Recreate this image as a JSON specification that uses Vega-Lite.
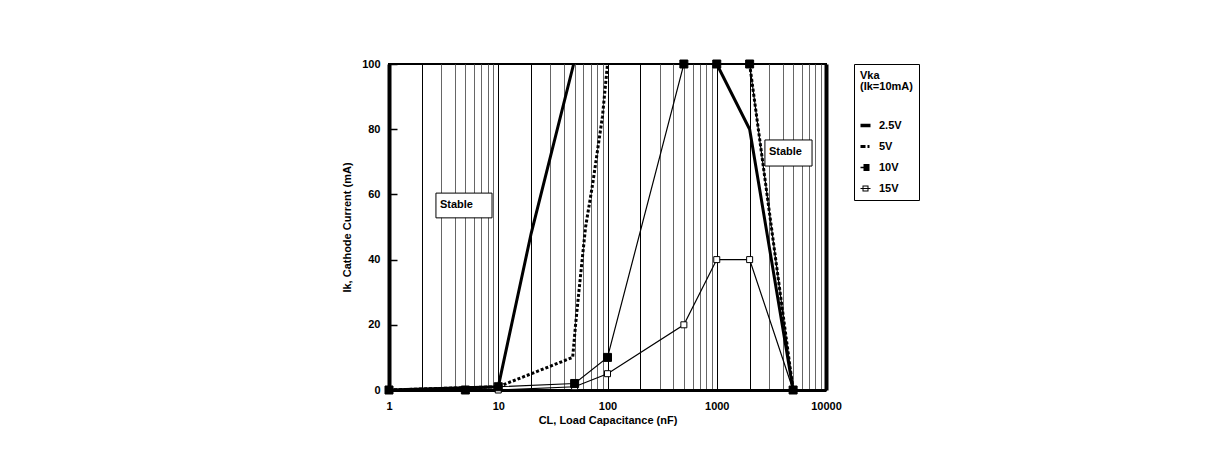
{
  "$schema": "https://vega.github.io/schema/vega-lite/v6.json",
  "width": 437,
  "height": 326,
  "autosize": {"type": "none"},
  "padding": {"left": 389, "top": 64, "right": 397, "bottom": 83},
  "background": "white",
  "config": {
    "view": {"stroke": "black", "strokeWidth": 2},
    "font": "Liberation Sans"
  },
  "datasets": {
    "curves": [
      {"s": "2.5V", "p": "2.5a", "x": 1, "y": 0},
      {"s": "2.5V", "p": "2.5a", "x": 10, "y": 1},
      {"s": "2.5V", "p": "2.5a", "x": 20, "y": 48},
      {"s": "2.5V", "p": "2.5a", "x": 49, "y": 100},
      {"s": "2.5V", "p": "2.5b", "x": 1000, "y": 100},
      {"s": "2.5V", "p": "2.5b", "x": 2000, "y": 80},
      {"s": "2.5V", "p": "2.5b", "x": 5000, "y": 0},
      {"s": "5V", "p": "5a", "x": 1, "y": 0},
      {"s": "5V", "p": "5a", "x": 10, "y": 1},
      {"s": "5V", "p": "5a", "x": 48, "y": 10},
      {"s": "5V", "p": "5a", "x": 51, "y": 20},
      {"s": "5V", "p": "5a", "x": 57, "y": 36},
      {"s": "5V", "p": "5a", "x": 63, "y": 50},
      {"s": "5V", "p": "5a", "x": 73, "y": 63},
      {"s": "5V", "p": "5a", "x": 90, "y": 84},
      {"s": "5V", "p": "5a", "x": 100, "y": 100},
      {"s": "5V", "p": "5b", "x": 2000, "y": 100},
      {"s": "5V", "p": "5b", "x": 5000, "y": 0},
      {"s": "10V", "p": "10", "x": 1, "y": 0},
      {"s": "10V", "p": "10", "x": 5, "y": 0},
      {"s": "10V", "p": "10", "x": 10, "y": 1},
      {"s": "10V", "p": "10", "x": 50, "y": 2},
      {"s": "10V", "p": "10", "x": 100, "y": 10},
      {"s": "10V", "p": "10", "x": 500, "y": 100},
      {"s": "10V", "p": "10", "x": 1000, "y": 100},
      {"s": "10V", "p": "10", "x": 2000, "y": 100},
      {"s": "10V", "p": "10", "x": 5000, "y": 0},
      {"s": "15V", "p": "15", "x": 1, "y": 0},
      {"s": "15V", "p": "15", "x": 10, "y": 0},
      {"s": "15V", "p": "15", "x": 50, "y": 1},
      {"s": "15V", "p": "15", "x": 100, "y": 5},
      {"s": "15V", "p": "15", "x": 500, "y": 20},
      {"s": "15V", "p": "15", "x": 1000, "y": 40},
      {"s": "15V", "p": "15", "x": 2000, "y": 40},
      {"s": "15V", "p": "15", "x": 5000, "y": 0}
    ],
    "notes": [
      {"label": "Stable", "x1": 2.69, "x2": 8.77, "y1": 52.8, "y2": 60.4, "ty": 56.8},
      {"label": "Stable", "x1": 2760, "x2": 7450, "y1": 68.7, "y2": 76.7, "ty": 72.9}
    ]
  },
  "encoding": {
    "x": {
      "field": "x", "type": "quantitative",
      "scale": {"type": "log", "domain": [1, 10000]},
      "axis": {
        "values": [1,2,3,4,5,6,7,8,9,10,20,30,40,50,60,70,80,90,100,200,300,400,500,600,700,800,900,1000,2000,3000,4000,5000,6000,7000,8000,9000,10000],
        "grid": true,
        "gridColor": {"condition": {"test": "indexof([1,2,10,20,100,200,1000,2000,10000], datum.value) >= 0", "value": "black"}, "value": "#666666"},
        "gridWidth": {"condition": {"test": "datum.value == 10000", "value": 4}, "value": 1},
        "gridOpacity": 1,
        "ticks": false,
        "tickSize": 0,
        "labelExpr": "indexof([1,10,100,1000,10000], datum.value) >= 0 ? format(datum.value, 'd') : ''",
        "labelOverlap": false,
        "labelFlush": false,
        "labelFont": "Liberation Sans",
        "labelFontSize": 11,
        "labelFontWeight": "bold",
        "labelColor": "black",
        "labelPadding": 10,
        "domainColor": "black",
        "domainWidth": 3,
        "title": "CL, Load Capacitance (nF)",
        "titleFont": "Liberation Sans",
        "titleFontSize": 11,
        "titleFontWeight": "bold",
        "titleColor": "black",
        "titlePadding": 3
      }
    },
    "y": {
      "field": "y", "type": "quantitative",
      "scale": {"domain": [0, 100], "nice": false},
      "axis": {
        "values": [0, 20, 40, 60, 80, 100],
        "grid": false,
        "tickSize": -8,
        "tickWidth": 1.5,
        "tickColor": "black",
        "labelFont": "Liberation Sans",
        "labelFontSize": 11,
        "labelFontWeight": "bold",
        "labelColor": "black",
        "labelPadding": 17,
        "domainColor": "black",
        "domainWidth": 4,
        "title": "Ik, Cathode Current (mA)",
        "titleFont": "Liberation Sans",
        "titleFontSize": 11,
        "titleFontWeight": "bold",
        "titleColor": "black",
        "titlePadding": 9
      }
    }
  },
  "layer": [
    {
      "data": {"name": "curves"},
      "transform": [{"filter": "datum.s == '10V' || datum.s == '15V'"}],
      "mark": {"type": "line", "color": "black", "strokeWidth": 1.2},
      "encoding": {"detail": {"field": "p", "type": "nominal"}}
    },
    {
      "data": {"name": "curves"},
      "transform": [{"filter": "datum.s == '5V'"}],
      "mark": {"type": "line", "color": "black", "strokeWidth": 3, "strokeDash": [3, 2], "strokeCap": "butt"},
      "encoding": {"detail": {"field": "p", "type": "nominal"}}
    },
    {
      "data": {"name": "curves"},
      "transform": [{"filter": "datum.s == '2.5V'"}],
      "mark": {"type": "line", "color": "black", "strokeWidth": 3},
      "encoding": {"detail": {"field": "p", "type": "nominal"}}
    },
    {
      "data": {"name": "curves"},
      "transform": [{"filter": "datum.s == '15V'"}],
      "mark": {"type": "point", "shape": "square", "size": 36, "filled": true, "fill": "white", "stroke": "black", "strokeWidth": 1, "opacity": 1}
    },
    {
      "data": {"name": "curves"},
      "transform": [{"filter": "datum.s == '10V'"}],
      "mark": {"type": "point", "shape": "square", "size": 64, "filled": true, "fill": "black", "stroke": "black", "strokeWidth": 1, "opacity": 1}
    },
    {
      "data": {"name": "curves"},
      "mark": {"type": "point", "filled": true, "color": "black", "opacity": 0, "size": 1},
      "encoding": {
        "shape": {
          "field": "s", "type": "nominal",
          "scale": {
            "domain": ["2.5V", "5V", "10V", "15V"],
            "range": [
              "M-1,-0.35H1V0.35H-1Z",
              "M-1,-0.3H0V0.3H-1Z M0.4,-0.3H0.8V0.3H0.4Z",
              "M-1,-0.15H-0.3V0.15H-1Z M-0.4,-0.7H0.8V0.7H-0.4Z",
              "M-0.6,-0.6H0.6V0.6H-0.6Z M-0.4,-0.4V0.4H0.4V-0.4Z M-1,-0.1H-0.6V0.1H-1Z M0.6,-0.1H1V0.1H0.6Z M-0.4,-0.1H0.4V0.1H-0.4Z"
            ]
          },
          "legend": {
            "orient": "none",
            "legendX": 465,
            "legendY": 0,
            "title": ["Vka", "(Ik=10mA)"],
            "strokeColor": "black",
            "fillColor": "white",
            "padding": 6,
            "titleFont": "Liberation Sans",
            "titleFontSize": 11,
            "titleFontWeight": "bold",
            "titleColor": "black",
            "titleLineHeight": 11,
            "titlePadding": 28,
            "labelFont": "Liberation Sans",
            "labelFontSize": 11,
            "labelFontWeight": "bold",
            "labelColor": "black",
            "labelOffset": 8,
            "symbolSize": 100,
            "symbolOpacity": 1,
            "symbolFillColor": "black",
            "symbolStrokeColor": "black",
            "symbolStrokeWidth": 0,
            "rowPadding": 9
          }
        }
      }
    },
    {
      "data": {"name": "notes"},
      "mark": {"type": "rect", "fill": "white", "stroke": "black", "strokeWidth": 1},
      "encoding": {
        "x": {"field": "x1", "type": "quantitative"},
        "x2": {"field": "x2"},
        "y": {"field": "y1", "type": "quantitative"},
        "y2": {"field": "y2"}
      }
    },
    {
      "data": {"name": "notes"},
      "mark": {"type": "text", "align": "left", "baseline": "middle", "dx": 4, "font": "Liberation Sans", "fontSize": 11, "fontWeight": "bold", "color": "black"},
      "encoding": {
        "x": {"field": "x1", "type": "quantitative"},
        "y": {"field": "ty", "type": "quantitative"},
        "text": {"field": "label"}
      }
    }
  ]
}
